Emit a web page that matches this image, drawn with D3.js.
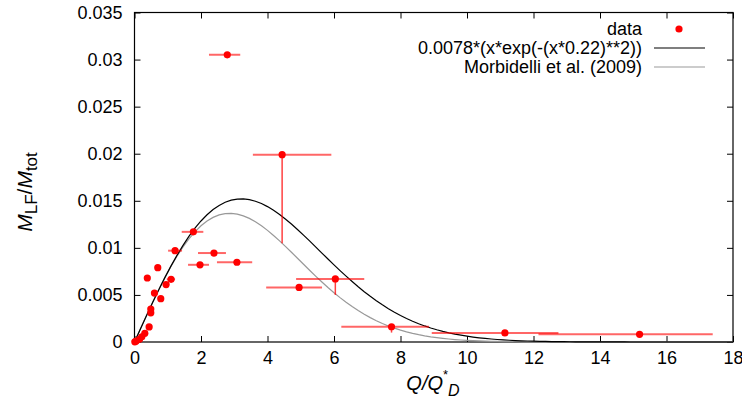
<!DOCTYPE html>
<html>
    <head>
        <script src="https://d3js.org/d3.v7.min.js"></script>
        <style>
          body { margin: 0; background: #fff; }
          text { font-family: "Liberation Sans", Arial, sans-serif; }
        </style>
    </head>
    <body>
        <div id="chart"></div>
        <script>

            /* DATA */
            var xs   = [2.79, 4.44, 1.77, 1.22, 2.39, 1.97, 3.08, 6.04, 4.95, 7.73, 11.14, 15.19,
                        0.70, 0.385, 1.10, 0.95, 0.60, 0.79, 0.49, 0.49, 0.44, 0.31, 0.22, 0.15, 0.05, 0.01];
            var ys   = [0.0305, 0.0199, 0.0117, 0.0097, 0.00945, 0.0082, 0.00847, 0.0067, 0.0058, 0.00162, 0.00096, 0.00082,
                        0.0079, 0.0068, 0.00666, 0.0061, 0.0052, 0.0046, 0.0035, 0.0031, 0.0016, 0.00092, 0.00056, 0.00028, 0.0001, 0.00002];
            var xlow = [2.24, 3.56, 1.42, 1.01, 1.91, 1.61, 2.48, 4.86, 3.96, 6.22, 8.94, 12.15,
                        0.70, 0.385, 0.97, 0.95, 0.60, 0.79, 0.49, 0.49, 0.44, 0.31, 0.22, 0.15, 0.05, 0.01];
            var xhigh = [3.18, 5.92, 2.07, 1.43, 2.75, 2.24, 3.54, 6.91, 5.64, 8.86, 12.75, 17.39,
                        0.70, 0.385, 1.22, 0.95, 0.60, 0.79, 0.49, 0.49, 0.44, 0.31, 0.22, 0.15, 0.05, 0.01];
            var ylow = [0.0305, 0.0105, 0.0117, 0.0097, 0.00945, 0.0082, 0.00847, 0.0050, 0.0058, 0.0010, 0.00096, 0.00082,
                        0.0079, 0.0068, 0.00666, 0.0061, 0.0052, 0.0046, 0.0035, 0.0031, 0.0016, 0.00092, 0.00056, 0.00028, 0.0001, 0.00002];

            var xTicks = [0, 2, 4, 6, 8, 10, 12, 14, 16, 18];
            var yTicks = [0, 0.005, 0.01, 0.015, 0.02, 0.025, 0.03, 0.035];

            // fit from the legend, and Morbidelli curve parameters
            var fitA = 0.0078, fitB = 0.22;
            var morbA = 0.00788, morbB = 0.2472;
            var legendLabels = ["data", "0.0078*(x*exp(-(x*0.22)**2))", "Morbidelli et al. (2009)"];

            /* DIMENSIONS */
            var width = 742, height = 407;
            var plotL = 134.5, plotR = 733, plotT = 12.5, plotB = 342;

            var svg = d3.select("#chart")
                .append("svg")
                .attr("width", width)
                .attr("height", height);

            var x = d3.scaleLinear().domain([0, 18]).range([plotL, plotR]);
            var y = d3.scaleLinear().domain([0, 0.035]).range([plotB, plotT]);

            var yFormat = function(d) { return d === 0 ? "0" : String(+d.toFixed(3)); };

            /* AXES, ticks inward on all four sides */
            var gx = svg.append("g")
                .attr("transform", "translate(0," + plotB + ")")
                .call(d3.axisBottom(x).tickValues(xTicks).tickSize(-6).tickSizeOuter(0).tickPadding(9));
            var gy = svg.append("g")
                .attr("transform", "translate(" + plotL + ",0)")
                .call(d3.axisLeft(y).tickValues(yTicks).tickFormat(yFormat).tickSize(-6).tickSizeOuter(0).tickPadding(12));
            var gt = svg.append("g")
                .attr("transform", "translate(0," + plotT + ")")
                .call(d3.axisTop(x).tickValues(xTicks).tickSize(-6).tickSizeOuter(0).tickFormat(""));
            var gr = svg.append("g")
                .attr("transform", "translate(" + plotR + ",0)")
                .call(d3.axisRight(y).tickValues(yTicks).tickSize(-6).tickSizeOuter(0).tickFormat(""));

            [gx, gy, gt, gr].forEach(function(g) {
                g.select(".domain").remove();
                g.selectAll("line").attr("stroke", "#000").attr("stroke-width", 1);
                g.selectAll("text").attr("fill", "#000").style("font-size", "18px");
            });

            svg.append("rect")
                .attr("x", plotL).attr("y", plotT)
                .attr("width", plotR - plotL).attr("height", plotB - plotT)
                .attr("fill", "none").attr("stroke", "#000").attr("stroke-width", 1.2);

            /* CURVES */
            var samples = d3.range(0, 100).map(function(i) { return 18 * i / 99; });
            var line = d3.line()
                .x(function(d) { return x(d[0]); })
                .y(function(d) { return y(d[1]); });

            var plot = svg.append("g");

            plot.append("path")
                .datum(samples.map(function(t) { return [t, morbA * t * Math.exp(-Math.pow(t * morbB, 2))]; }))
                .attr("d", line)
                .attr("fill", "none").attr("stroke", "#999").attr("stroke-width", 1.2);

            plot.append("path")
                .datum(samples.map(function(t) { return [t, fitA * t * Math.exp(-Math.pow(t * fitB, 2))]; }))
                .attr("d", line)
                .attr("fill", "none").attr("stroke", "#000").attr("stroke-width", 1.2);

            /* ERROR BARS AND POINTS */
            var idx = d3.range(xs.length);

            plot.append("g")
                .selectAll("line")
                .data(idx.filter(function(i) { return xhigh[i] > xlow[i]; }))
                .enter()
                .append("line")
                    .attr("x1", function(i) { return x(xlow[i]); })
                    .attr("x2", function(i) { return x(xhigh[i]); })
                    .attr("y1", function(i) { return y(ys[i]); })
                    .attr("y2", function(i) { return y(ys[i]); })
                    .attr("stroke", "#ff0000").attr("stroke-opacity", 0.6).attr("stroke-width", 2);

            plot.append("g")
                .selectAll("line")
                .data(idx.filter(function(i) { return ylow[i] < ys[i]; }))
                .enter()
                .append("line")
                    .attr("x1", function(i) { return x(xs[i]); })
                    .attr("x2", function(i) { return x(xs[i]); })
                    .attr("y1", function(i) { return y(ys[i]); })
                    .attr("y2", function(i) { return y(ylow[i]); })
                    .attr("stroke", "#ff0000").attr("stroke-opacity", 0.75).attr("stroke-width", 1.5);

            plot.append("g")
                .selectAll("circle")
                .data(idx)
                .enter()
                .append("circle")
                    .attr("cx", function(i) { return x(xs[i]); })
                    .attr("cy", function(i) { return y(ys[i]); })
                    .attr("r", 3.6)
                    .attr("fill", "#ff0000");

            /* LEGEND */
            var legend = svg.append("g");
            var rowY = [29, 48, 67];
            legend.selectAll("text")
                .data(legendLabels)
                .enter()
                .append("text")
                    .attr("x", 642)
                    .attr("y", function(d, i) { return rowY[i]; })
                    .attr("dy", "0.35em")
                    .attr("text-anchor", "end")
                    .style("font-size", "18px")
                    .text(function(d) { return d; });
            legend.append("circle")
                .attr("cx", 679).attr("cy", rowY[0]).attr("r", 3.6).attr("fill", "#ff0000");
            legend.append("line")
                .attr("x1", 654).attr("x2", 705).attr("y1", rowY[1]).attr("y2", rowY[1])
                .attr("stroke", "#000").attr("stroke-width", 1.2);
            legend.append("line")
                .attr("x1", 654).attr("x2", 705).attr("y1", rowY[2]).attr("y2", rowY[2])
                .attr("stroke", "#999").attr("stroke-width", 1.2);

            /* AXIS TITLES */
            var xt = svg.append("text")
                .attr("x", 433).attr("y", 390)
                .attr("text-anchor", "middle")
                .style("font-size", "20px");
            xt.append("tspan").style("font-style", "italic").text("Q/Q");
            xt.append("tspan").attr("dy", -11).style("font-size", "13px").text("*");
            xt.append("tspan").attr("dy", 17).style("font-style", "italic").style("font-size", "16px").text("D");

            var yt = svg.append("text")
                .attr("transform", "translate(32,192) rotate(-90)")
                .attr("text-anchor", "middle")
                .style("font-size", "21px");
            yt.append("tspan").style("font-style", "italic").text("M");
            yt.append("tspan").attr("dy", 5).style("font-size", "17px").text("LF");
            yt.append("tspan").attr("dy", -5).text("/");
            yt.append("tspan").style("font-style", "italic").text("M");
            yt.append("tspan").attr("dy", 5).style("font-size", "17px").text("tot");

        </script>
    </body>
</html>
